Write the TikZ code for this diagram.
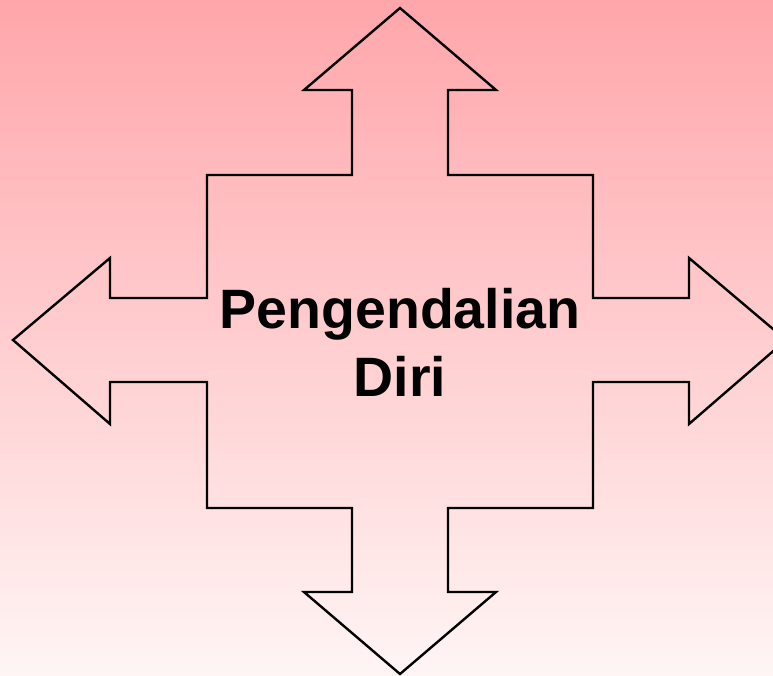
\documentclass[tikz,border=0pt]{standalone}
\usepackage{fontspec}
\setmainfont{Liberation Sans}
\definecolor{bgtop}{HTML}{FFA6AA}
\definecolor{bgbot}{HTML}{FFF5F5}
\tikzset{outline/.style={draw=black,line width=2.4pt,line join=miter}}
\begin{document}
\begin{tikzpicture}[x=1pt,y=-1pt]
\useasboundingbox (0,0) rectangle (773,676);
\clip (0,0) rectangle (773,676);
\shade[top color=bgtop,bottom color=bgbot] (0,0) rectangle (773,676);
\draw[outline] (400,8) -- (496,90) -- (448,90) -- (448,175) -- (593,175) -- (593,298) -- (689,298) -- (689,258) -- (786,340) -- (689,424) -- (689,382) -- (593,382) -- (593,508) -- (448,508) -- (448,592) -- (496,592) -- (400,674) -- (304,592) -- (352,592) -- (352,508) -- (207,508) -- (207,382) -- (110,382) -- (110,424) -- (13,340) -- (110,258) -- (110,298) -- (207,298) -- (207,175) -- (352,175) -- (352,90) -- (304,90) -- cycle;
\node[font=\fontsize{55.5}{68}\selectfont\bfseries,align=center,anchor=base,inner sep=0pt] (title) at (400,396) {Pengendalian\\Diri};
\end{tikzpicture}
\end{document}
